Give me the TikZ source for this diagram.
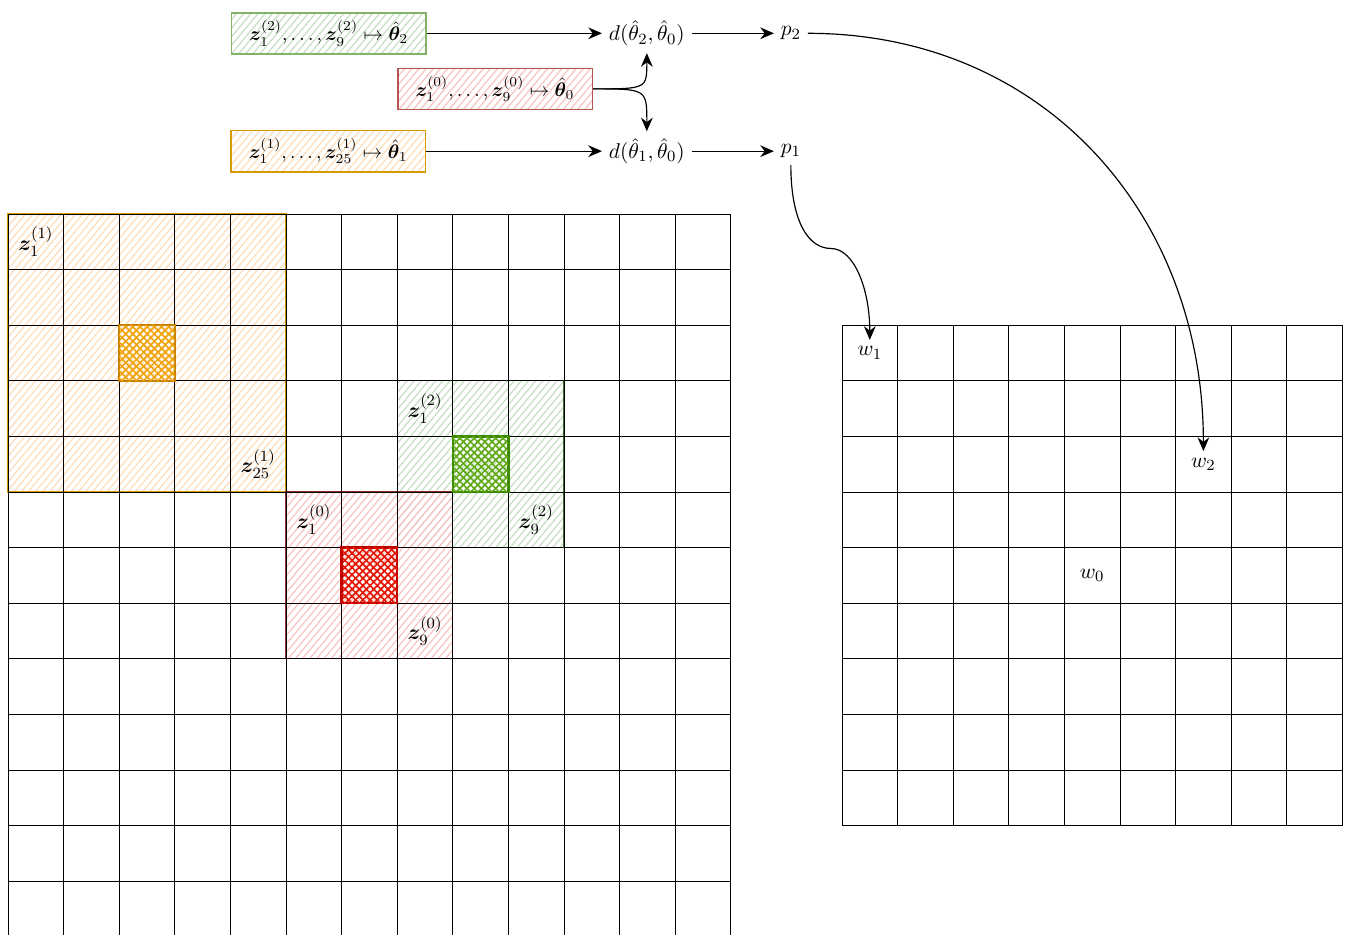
\documentclass[tikz,border=0pt]{standalone}
\usepackage{amsmath,amssymb}
\usepackage{bm}
\usepackage{xcolor}
\usetikzlibrary{arrows.meta,patterns.meta}
\definecolor{patchorange}    {HTML}{D79B00}
\definecolor{patchorangefill}{HTML}{FFDDBB}
\definecolor{coreorange}     {HTML}{F0A30A}
\definecolor{coreorangeline} {HTML}{C78000}
\definecolor{patchgreen}     {HTML}{82B366}
\definecolor{patchgreenline} {HTML}{3F6B2A}
\definecolor{patchgreenfill} {HTML}{C6E0C3}
\definecolor{coregreen}      {HTML}{60A917}
\definecolor{coregreenline}  {HTML}{3A8A00}
\definecolor{patchred}       {HTML}{B85450}
\definecolor{patchredline}   {HTML}{8E2F2B}
\definecolor{patchredfill}   {HTML}{F6C4C2}
\definecolor{corered}        {HTML}{E51400}
\definecolor{coreredline}    {HTML}{C00000}

\begin{document}
\begin{tikzpicture}[
  >={Stealth[length=7pt,width=6pt]},
  hatch/.style={pattern={Lines[angle=50,distance=2.8pt,line width=0.65pt]},
                pattern color=#1},
  xhatch/.style={pattern={Lines[angle=45,distance=2.6pt,line width=0.85pt]},
                 pattern color=#1,
                 postaction={pattern={Lines[angle=-45,distance=2.6pt,line width=0.85pt]},
                             pattern color=#1}},
  est/.style={rectangle,minimum width=3.5cm,minimum height=0.74cm,
              line width=0.8pt,font=\normalsize},
  lbl/.style={font=\fontsize{11}{13}\selectfont},
  conn/.style={->,line width=0.6pt},
  pixgrid/.style={line width=0.5pt,black},
  core/.style={line width=1.2pt},
]
\useasboundingbox (-0.144,3.849) rectangle (24.083,-12.95);

%% ── Patches on the input grid ────────────────────────────────────────────────
\path[hatch=patchorangefill,draw=patchorange,line width=0.8pt] (0,0) rectangle (5,-5);
\path[hatch=patchgreenfill,draw=patchgreenline,line width=0.7pt] (7,-3) rectangle (10,-6);
\path[hatch=patchredfill,draw=patchredline,line width=0.7pt] (5,-5) rectangle (8,-8);

%% ── Input grid and output grid ───────────────────────────────────────────────
\draw[pixgrid] (0,0) grid (13,-13);
\draw[pixgrid] (15,-2) grid (24,-11);

%% ── Centre pixels of the patches ─────────────────────────────────────────────
\path[xhatch=coreorange,draw=coreorangeline,core] (2,-2) rectangle (3,-3);
\path[xhatch=coregreen,draw=coregreenline,core] (8,-4) rectangle (9,-5);
\path[xhatch=corered,draw=coreredline,core] (6,-6) rectangle (7,-7);

%% ── Patch labels ─────────────────────────────────────────────────────────────
\node[lbl] (zA1)  at (0.5,-0.5) {$\bm{z}_1^{(1)}$};
\node[lbl] (zA25) at (4.5,-4.5) {$\bm{z}_{25}^{(1)}$};
\node[lbl] (zB1)  at (7.5,-3.5) {$\bm{z}_1^{(2)}$};
\node[lbl] (zB9)  at (9.5,-5.5) {$\bm{z}_9^{(2)}$};
\node[lbl] (zC1)  at (5.5,-5.5) {$\bm{z}_1^{(0)}$};
\node[lbl] (zC9)  at (7.5,-7.5) {$\bm{z}_9^{(0)}$};

%% ── Output weights ───────────────────────────────────────────────────────────
\node[lbl] (w1) at (15.5,-2.5) {$w_1$};
\node[lbl] (w2) at (21.5,-4.5) {$w_2$};
\node[lbl] (w0) at (19.5,-6.5) {$w_0$};

%% ── Estimators ───────────────────────────────────────────────────────────────
\node[est,draw=patchgreen,hatch=patchgreenfill] (est2) at (5.77,3.25)
  {$\bm{z}_1^{(2)},\dots,\bm{z}_9^{(2)}\mapsto\hat{\bm{\theta}}_2$};
\node[est,draw=patchred,hatch=patchredfill] (est0) at (8.76,2.25)
  {$\bm{z}_1^{(0)},\dots,\bm{z}_9^{(0)}\mapsto\hat{\bm{\theta}}_0$};
\node[est,draw=patchorange,hatch=patchorangefill] (est1) at (5.76,1.13)
  {$\bm{z}_1^{(1)},\dots,\bm{z}_{25}^{(1)}\mapsto\hat{\bm{\theta}}_1$};

%% ── Distances and p-values ───────────────────────────────────────────────────
\node[lbl] (d2) at (11.49,3.25) {$d(\hat{\theta}_2,\hat{\theta}_0)$};
\node[lbl] (d1) at (11.49,1.13) {$d(\hat{\theta}_1,\hat{\theta}_0)$};
\node[lbl] (p2) at (14.08,3.25) {$p_2$};
\node[lbl] (p1) at (14.08,1.13) {$p_1$};
\coordinate (kink) at (14.8,-0.62);

\draw[conn] (est2) -- (d2);
\draw[conn] (est1) -- (d1);
\draw[conn] (est0.east) .. controls (d2.south |- est0.east) .. (d2.south);
\draw[conn] (est0.east) .. controls (d1.north |- est0.east) .. (d1.north);
\draw[conn] (d2) -- (p2);
\draw[conn] (d1) -- (p1);

%% ── p-values onto the output grid ────────────────────────────────────────────
\draw[conn] (p2.east) to[out=0,in=90,looseness=1.05] (w2.north);
\draw[conn] (p1.south) to[out=-90,in=180,out looseness=1.6,in looseness=0.6] (kink)
  to[out=0,in=90,out looseness=0.6,in looseness=1.3] (w1.north);

\end{tikzpicture}
\end{document}
